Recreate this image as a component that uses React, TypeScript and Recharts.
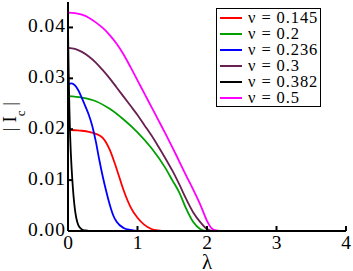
import React from 'react';
import { LineChart, Line, XAxis, YAxis, Legend } from 'recharts';

const lam145 = [0, 0.1, 0.2, 0.3, 0.4, 0.5, 0.6, 0.7, 0.8, 0.9, 1.0, 1.1, 1.2, 1.3, 1.4, 4];
const ic145 = [0.0199, 0.0198, 0.0197, 0.0195, 0.0191, 0.0183, 0.016, 0.0122, 0.008, 0.0047, 0.0026, 0.0012, 0.0004, 0.0001, 0, 0];

const lam200 = [0, 0.2, 0.4, 0.6, 0.8, 1.0, 1.2, 1.4, 1.5, 1.6, 1.7, 1.8, 1.9, 2.0, 4];
const ic200 = [0.0265, 0.0262, 0.0255, 0.024, 0.0219, 0.0194, 0.0163, 0.0124, 0.01, 0.0076, 0.0044, 0.0018, 0.0004, 0, 0];

const lam236 = [0, 0.05, 0.1, 0.15, 0.2, 0.25, 0.3, 0.35, 0.4, 0.45, 0.5, 0.55, 0.6, 0.65, 0.7, 0.8, 0.9, 1.0, 4];
const ic236 = [0.0288, 0.029, 0.0286, 0.0276, 0.0261, 0.0245, 0.0228, 0.0206, 0.0176, 0.014, 0.0107, 0.0078, 0.0052, 0.0031, 0.0018, 0.0006, 0.0002, 0, 0];

const lam300 = [0, 0.1, 0.2, 0.3, 0.4, 0.5, 0.6, 0.7, 0.8, 0.9, 1.0, 1.1, 1.2, 1.3, 1.4, 1.5, 1.6, 1.7, 1.8, 1.9, 2.0, 2.1, 4];
const ic300 = [0.036, 0.0358, 0.0352, 0.0343, 0.0331, 0.0316, 0.03, 0.0282, 0.0264, 0.0246, 0.0228, 0.0208, 0.0188, 0.0166, 0.0143, 0.0119, 0.0092, 0.0063, 0.0037, 0.0018, 0.0004, 0, 0];

const lam382 = [0, 0.01, 0.02, 0.03, 0.04, 0.05, 0.06, 0.08, 0.1, 0.12, 0.15, 0.2, 0.25, 0.3, 4];
const ic382 = [0.04, 0.031, 0.024, 0.019, 0.0155, 0.0128, 0.0105, 0.0068, 0.0042, 0.0025, 0.0011, 0.0003, 0.0001, 0, 0];

const lam500 = [0, 0.1, 0.2, 0.3, 0.4, 0.5, 0.6, 0.7, 0.8, 0.9, 1.0, 1.1, 1.2, 1.3, 1.4, 1.5, 1.6, 1.7, 1.8, 1.9, 2.0, 2.05, 2.1, 2.2, 4];
const ic500 = [0.0429, 0.0428, 0.0425, 0.0419, 0.041, 0.0399, 0.0385, 0.0368, 0.0347, 0.0322, 0.0296, 0.027, 0.0244, 0.0218, 0.0192, 0.0165, 0.0137, 0.0109, 0.0082, 0.0053, 0.002, 0.0008, 0.0002, 0, 0];

const xTicks = [0, 1, 2, 3, 4];
const yTicks = [0, 0.01, 0.02, 0.03, 0.04];

const toPoints = (lam: number[], ic: number[]) => lam.map((x, i) => ({ lam: x, ic: ic[i] }));

const series = [
  { name: 'ν = 0.145', color: '#ff0000', data: toPoints(lam145, ic145) },
  { name: 'ν = 0.2', color: '#00a000', data: toPoints(lam200, ic200) },
  { name: 'ν = 0.236', color: '#0000ff', data: toPoints(lam236, ic236) },
  { name: 'ν = 0.3', color: '#67204f', data: toPoints(lam300, ic300) },
  { name: 'ν = 0.382', color: '#000000', data: toPoints(lam382, ic382) },
  { name: 'ν = 0.5', color: '#ff00ff', data: toPoints(lam500, ic500) },
];

const FONT = '"Liberation Serif", "Times New Roman", serif';
const TICK = 5;
const axisLine = { stroke: '#000', strokeWidth: 2 };

const BottomTick = ({ x, y, payload }: any) => (
  <g>
    <line x1={x} x2={x} y1={y} y2={y - TICK} stroke="#000" strokeWidth={2} />
    <text x={x} y={y + 18} textAnchor="middle" fontFamily={FONT} fontSize={19.5} fill="#000">
      {payload.value}
    </text>
  </g>
);

const LeftTick = ({ x, y, payload }: any) => (
  <g>
    <line x1={x} x2={x + TICK} y1={y} y2={y} stroke="#000" strokeWidth={2} />
    <text x={x - 2} y={y + 5} textAnchor="end" fontFamily={FONT} fontSize={19.5} letterSpacing={1} fill="#000">
      {payload.value.toFixed(2)}
    </text>
  </g>
);

const TopTick = ({ x, y }: any) => (
  <line x1={x} x2={x} y1={y} y2={y + TICK} stroke="#000" strokeWidth={2} />
);

const RightTick = ({ x, y }: any) => (
  <line x1={x} x2={x - TICK} y1={y} y2={y} stroke="#000" strokeWidth={2} />
);

const LegendBox = () => (
  <div
    style={{
      width: 103,
      height: 96,
      border: '1.5px solid #000',
      background: '#fff',
      paddingTop: 1,
      boxSizing: 'content-box',
    }}
  >
    {series.map((s) => (
      <div key={s.name} style={{ display: 'flex', alignItems: 'center', height: 16, whiteSpace: 'nowrap' }}>
        <div style={{ width: 22, height: 2, background: s.color, marginLeft: 3 }} />
        <span style={{ marginLeft: 6, fontFamily: FONT, fontSize: 16.5, letterSpacing: 0.9, lineHeight: '16px', color: '#000' }}>
          {s.name}
        </span>
      </div>
    ))}
  </div>
);

const YLabel = ({ viewBox }: any) => {
  const cx = viewBox.x + 16;
  const cy = viewBox.y + viewBox.height / 2;
  return (
    <text x={cx} y={cy} transform={`rotate(-90, ${cx}, ${cy})`} textAnchor="middle" fontFamily={FONT} fontSize={19} fill="#000">
      <tspan>| I</tspan>
      <tspan fontSize={13} dy={9}>c</tspan>
      <tspan dy={-9}> |</tspan>
    </text>
  );
};

const XLabel = ({ viewBox }: any) => (
  <text x={viewBox.x + viewBox.width / 2} y={viewBox.y + 38} textAnchor="middle" fontFamily={FONT} fontSize={21} fill="#000">
    λ
  </text>
);

export default function App() {
  return (
    <div style={{ position: 'absolute', left: 0, top: 0, background: '#fff' }}>
      <LineChart width={353} height={271} margin={{ top: 2, right: 7, bottom: 0, left: 0 }}>
        <XAxis
          dataKey="lam"
          type="number"
          domain={[0, 4]}
          ticks={xTicks}
          height={40}
          axisLine={axisLine}
          tickLine={false}
          tickSize={0}
          tickMargin={0}
          tick={<BottomTick />}
          label={{ content: <XLabel /> }}
          allowDataOverflow
        />
        <XAxis
          xAxisId="top"
          orientation="top"
          dataKey="lam"
          type="number"
          domain={[0, 4]}
          ticks={xTicks}
          height={0}
          axisLine={axisLine}
          tickLine={false}
          tickSize={0}
          tickMargin={0}
          tick={<TopTick />}
          allowDataOverflow
        />
        <YAxis
          type="number"
          domain={[0, 0.045]}
          ticks={yTicks}
          width={68}
          axisLine={axisLine}
          tickLine={false}
          tickSize={0}
          tickMargin={0}
          tick={<LeftTick />}
          label={{ content: <YLabel /> }}
          allowDataOverflow
        />
        <YAxis
          yAxisId="right"
          orientation="right"
          type="number"
          domain={[0, 0.045]}
          ticks={yTicks}
          width={0}
          axisLine={axisLine}
          tickLine={false}
          tickSize={0}
          tickMargin={0}
          tick={<RightTick />}
          allowDataOverflow
        />
        {series.map((s) => (
          <Line
            key={s.name}
            data={s.data}
            dataKey="ic"
            name={s.name}
            type="monotone"
            stroke={s.color}
            strokeWidth={1.8}
            dot={false}
            isAnimationActive={false}
          />
        ))}
        <Legend
          layout="vertical"
          align="center"
          verticalAlign="middle"
          content={<LegendBox />}
          wrapperStyle={{ position: 'absolute', left: 216, top: 8, width: 'auto' }}
        />
      </LineChart>
    </div>
  );
}
